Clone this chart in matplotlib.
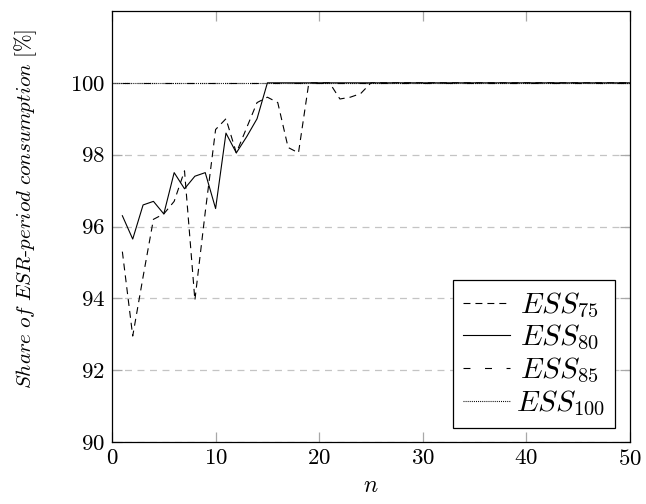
import matplotlib
matplotlib.use("Agg")
import matplotlib.pyplot as plt

plt.rcParams['font.family'] = ['cmr10', 'DejaVu Serif']
plt.rcParams['mathtext.fontset'] = 'cm'
plt.rcParams['axes.formatter.use_mathtext'] = True
plt.rcParams['lines.scale_dashes'] = False

n_short = list(range(1, 51))
n_full = list(range(0, 51))

ess75 = [95.3, 92.95, 94.6, 96.2, 96.35, 96.7, 97.55, 93.95, 96.4, 98.7,
         99.0, 98.05, 98.75, 99.45, 99.6, 99.45, 98.2, 98.05, 100, 100,
         100, 99.55, 99.6, 99.7, 100, 100, 100, 100, 100, 100,
         100, 100, 100, 100, 100, 100, 100, 100, 100, 100,
         100, 100, 100, 100, 100, 100, 100, 100, 100, 100]
ess80 = [96.3, 95.65, 96.6, 96.7, 96.35, 97.5, 97.05, 97.4, 97.5, 96.5,
         98.6, 98.05, 98.5, 99.0, 100, 100, 100, 100, 100, 100,
         100, 100, 100, 100, 100, 100, 100, 100, 100, 100,
         100, 100, 100, 100, 100, 100, 100, 100, 100, 100,
         100, 100, 100, 100, 100, 100, 100, 100, 100, 100]
ess85 = [100, 100, 100, 100, 100, 100, 100, 100, 100, 100,
         100, 100, 100, 100, 100, 100, 100, 100, 100, 100,
         100, 100, 100, 100, 100, 100, 100, 100, 100, 100,
         100, 100, 100, 100, 100, 100, 100, 100, 100, 100,
         100, 100, 100, 100, 100, 100, 100, 100, 100, 100]
ess100 = [100, 100, 100, 100, 100, 100, 100, 100, 100, 100, 100,
          100, 100, 100, 100, 100, 100, 100, 100, 100, 100,
          100, 100, 100, 100, 100, 100, 100, 100, 100, 100,
          100, 100, 100, 100, 100, 100, 100, 100, 100, 100,
          100, 100, 100, 100, 100, 100, 100, 100, 100, 100]

labels = [r'$\,ESS_{75}\,$', r'$\,ESS_{80}\,$', r'$\,ESS_{85}\,$', r'$ESS_{100}$']
xticks = [0, 10, 20, 30, 40, 50]
yticks = [90, 92, 94, 96, 98, 100]

fig = plt.figure(figsize=(6.46, 5.04), dpi=100)
ax = fig.add_axes([112/646, 1-442/504, 518/646, 431/504])

lw = 0.8
ax.plot(n_short, ess75, color='black', lw=lw, linestyle=(0, (5, 3.6)), label=labels[0], zorder=3)
ax.plot(n_short, ess80, color='black', lw=lw, linestyle='-', label=labels[1], zorder=3)
ax.plot(n_short, ess85, color='black', lw=lw, linestyle=(0, (5, 10.5)), label=labels[2], zorder=3)
ax.plot(n_full, ess100, color='black', lw=lw, linestyle=(0, (0.7, 0.8)), label=labels[3], zorder=3)

ax.set_xlim(0, 50)
ax.set_ylim(90, 102)
ax.set_xticks(xticks)
ax.set_yticks(yticks)
ax.grid(axis='y', color='#c4c4c4', linestyle=(0, (5, 4)), linewidth=0.9)
ax.set_axisbelow(True)
ax.tick_params(direction='in', length=7, width=0.9, color='#a8a8a8',
               top=True, right=True, labelsize=16.5, pad=5)
for s in ax.spines.values():
    s.set_linewidth(0.9)
    s.set_color('black')

ax.set_xlabel(r'$n$', fontsize=17, labelpad=4)
ax.set_ylabel(r'$\mathit{Share\ of\ ESR}$-$\mathit{period\ consumption\ [\%]}$',
              fontsize=15.2)
ax.yaxis.set_label_coords(-0.141, 0.54)

leg = ax.legend(loc='lower right', bbox_to_anchor=(0.971, 0.032), fontsize=21,
                frameon=True, fancybox=False, edgecolor='black', framealpha=1,
                handlelength=1.6, handletextpad=0.2, labelspacing=0.12,
                borderpad=0.35, borderaxespad=0)
leg.get_frame().set_linewidth(0.9)

fig.savefig('out.png', dpi=100)
